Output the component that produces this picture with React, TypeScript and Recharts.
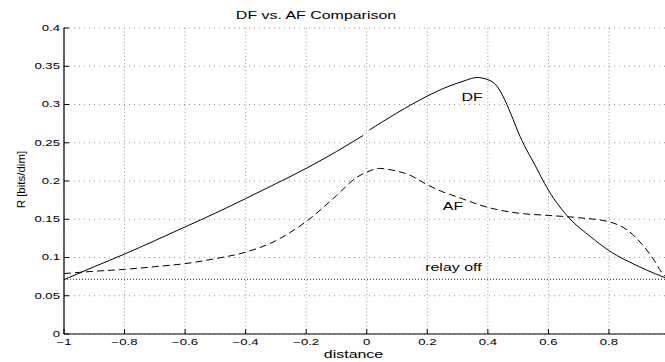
import React from 'react';
import { LineChart, Line, XAxis, YAxis, CartesianGrid, ReferenceLine } from 'recharts';

const dfX = [-1, -0.9, -0.8, -0.7, -0.6, -0.5, -0.4, -0.3, -0.2, -0.1, -0.012, 0, 0.008, 0.1, 0.2, 0.25, 0.3, 0.33, 0.363, 0.4, 0.43, 0.456, 0.484, 0.5, 0.525, 0.55, 0.6, 0.67, 0.74, 0.8, 0.9, 1.0];
const dfY: (number | null)[] = [0.071, 0.088, 0.1045, 0.122, 0.14, 0.158, 0.177, 0.1965, 0.2165, 0.2385, 0.2595, null, 0.2665, 0.289, 0.311, 0.3205, 0.328, 0.332, 0.3353, 0.3325, 0.324, 0.306, 0.28, 0.264, 0.243, 0.225, 0.188, 0.151, 0.127, 0.109, 0.088, 0.0715];

const afX = [-1, -0.9, -0.8, -0.7, -0.6, -0.5, -0.4, -0.3, -0.25, -0.2, -0.1, -0.034, 0, 0.043, 0.065, 0.1, 0.142, 0.2, 0.25, 0.3, 0.4, 0.5, 0.6, 0.7, 0.8, 0.86, 0.91, 0.95, 0.975, 1.0];
const afY = [0.079, 0.082, 0.0845, 0.088, 0.092, 0.0985, 0.107, 0.122, 0.1335, 0.147, 0.181, 0.2045, 0.2115, 0.2165, 0.2155, 0.213, 0.2077, 0.195, 0.186, 0.179, 0.1655, 0.158, 0.155, 0.152, 0.1467, 0.136, 0.117, 0.096, 0.08, 0.071];

const relayOff = 0.0715;

const xTicks = [-1, -0.8, -0.6, -0.4, -0.2, 0, 0.2, 0.4, 0.6, 0.8];
const xTickLabels = ['\u22121', '\u22120.8', '\u22120.6', '\u22120.4', '\u22120.2', '0', '0.2', '0.4', '0.6', '0.8'];
const yTicks = [0, 0.05, 0.1, 0.15, 0.2, 0.25, 0.3, 0.35, 0.4];
const yTickLabels = ['0', '0.05', '0.1', '0.15', '0.2', '0.25', '0.3', '0.35', '0.4'];

const titleText = 'DF vs. AF Comparison';
const xLabel = 'distance';
const yLabel = 'R [bits/dim]';

const dfData = dfX.map((x, i) => ({ x, y: dfY[i] }));
const afData = afX.map((x, i) => ({ x, y: afY[i] }));

const FONT = '"Liberation Sans", Arial, Helvetica, sans-serif';
const SX = 1.45;
const TSX = 1.55;
const TFS = 8.5;

const BottomTick = (props: any) => {
  const { x, y, payload } = props;
  const idx = xTicks.indexOf(payload.value);
  return (
    <g>
      <line x1={x} y1={y} x2={x} y2={y - 5} stroke="#000" strokeWidth={1} />
      <text transform={`translate(${x},${y + 11}) scale(${TSX},1)`} textAnchor="middle" fontSize={TFS} fontFamily={FONT} fill="#000">
        {idx >= 0 ? xTickLabels[idx] : ''}
      </text>
    </g>
  );
};

const TopTick = (props: any) => {
  const { x, y } = props;
  return <line x1={x} y1={y} x2={x} y2={y + 5} stroke="#000" strokeWidth={1} />;
};

const LeftTick = (props: any) => {
  const { x, y, payload } = props;
  const idx = yTicks.indexOf(payload.value);
  return (
    <g>
      <line x1={x} y1={y} x2={x + 5} y2={y} stroke="#000" strokeWidth={1} />
      <text transform={`translate(${x - 4},${y + 2.8}) scale(${TSX},1)`} textAnchor="end" fontSize={TFS} fontFamily={FONT} fill="#000">
        {idx >= 0 ? yTickLabels[idx] : ''}
      </text>
    </g>
  );
};

export default function App() {
  return (
    <div style={{ position: 'absolute', left: 0, top: 0, width: 665, height: 362, overflow: 'hidden', background: '#fff' }}>
      <LineChart width={675} height={362} margin={{ top: 28, right: 5.5, bottom: 0, left: 0 }}>
        <CartesianGrid xAxisId="bottom" horizontal={true} vertical={false} stroke="#999" strokeDasharray="1 4" />
        <CartesianGrid xAxisId="bottom" horizontal={false} vertical={true} stroke="#999" strokeDasharray="1 2.5" />
        <XAxis
          xAxisId="bottom"
          dataKey="x"
          type="number"
          domain={[-1, 1]}
          ticks={xTicks}
          interval={0}
          allowDataOverflow
          height={28}
          tickSize={0}
          tickMargin={0}
          tickLine={false}
          axisLine={{ stroke: '#000', strokeWidth: 1.2 }}
          tick={<BottomTick />}
        />
        <XAxis
          xAxisId="top"
          orientation="top"
          dataKey="x"
          type="number"
          domain={[-1, 1]}
          ticks={xTicks}
          interval={0}
          height={0}
          tickSize={0}
          tickMargin={0}
          tickLine={false}
          axisLine={{ stroke: '#000', strokeWidth: 1 }}
          tick={<TopTick />}
        />
        <YAxis
          type="number"
          domain={[0, 0.4]}
          ticks={yTicks}
          interval={0}
          width={64}
          tickSize={0}
          tickMargin={0}
          tickLine={false}
          axisLine={{ stroke: '#000', strokeWidth: 1.2 }}
          tick={<LeftTick />}
        />
        <ReferenceLine xAxisId="bottom" y={relayOff} stroke="#222" strokeDasharray="1 2" strokeWidth={1} />
        <Line
          xAxisId="bottom"
          data={dfData}
          dataKey="y"
          type="monotone"
          stroke="#000"
          strokeWidth={1}
          dot={false}
          connectNulls={false}
          isAnimationActive={false}
        />
        <Line
          xAxisId="bottom"
          data={afData}
          dataKey="y"
          type="monotone"
          stroke="#000"
          strokeWidth={1}
          strokeDasharray="7 4"
          dot={false}
          isAnimationActive={false}
        />
      </LineChart>
      <svg width={665} height={362} style={{ position: 'absolute', left: 0, top: 0, pointerEvents: 'none' }}>
        <text transform={`translate(316,18.5) scale(${SX},1)`} textAnchor="middle" fontSize={11} fontFamily={FONT} fill="#000">{titleText}</text>
        <text transform={`translate(353.5,358) scale(${SX},1)`} textAnchor="middle" fontSize={11} fontFamily={FONT} fill="#000">{xLabel}</text>
        <text transform="translate(24.5,179.6) rotate(-90)" textAnchor="middle" fontSize={11.5} fontFamily={FONT} fill="#000">{yLabel}</text>
        <text transform={`translate(472,101) scale(${SX},1)`} textAnchor="middle" fontSize={11} fontFamily={FONT} fill="#000">DF</text>
        <text transform={`translate(453,210) scale(${SX},1)`} textAnchor="middle" fontSize={11} fontFamily={FONT} fill="#000">AF</text>
        <text transform={`translate(453.4,270.7) scale(${SX},1)`} textAnchor="middle" fontSize={11} fontFamily={FONT} fill="#000">relay off</text>
      </svg>
    </div>
  );
}
